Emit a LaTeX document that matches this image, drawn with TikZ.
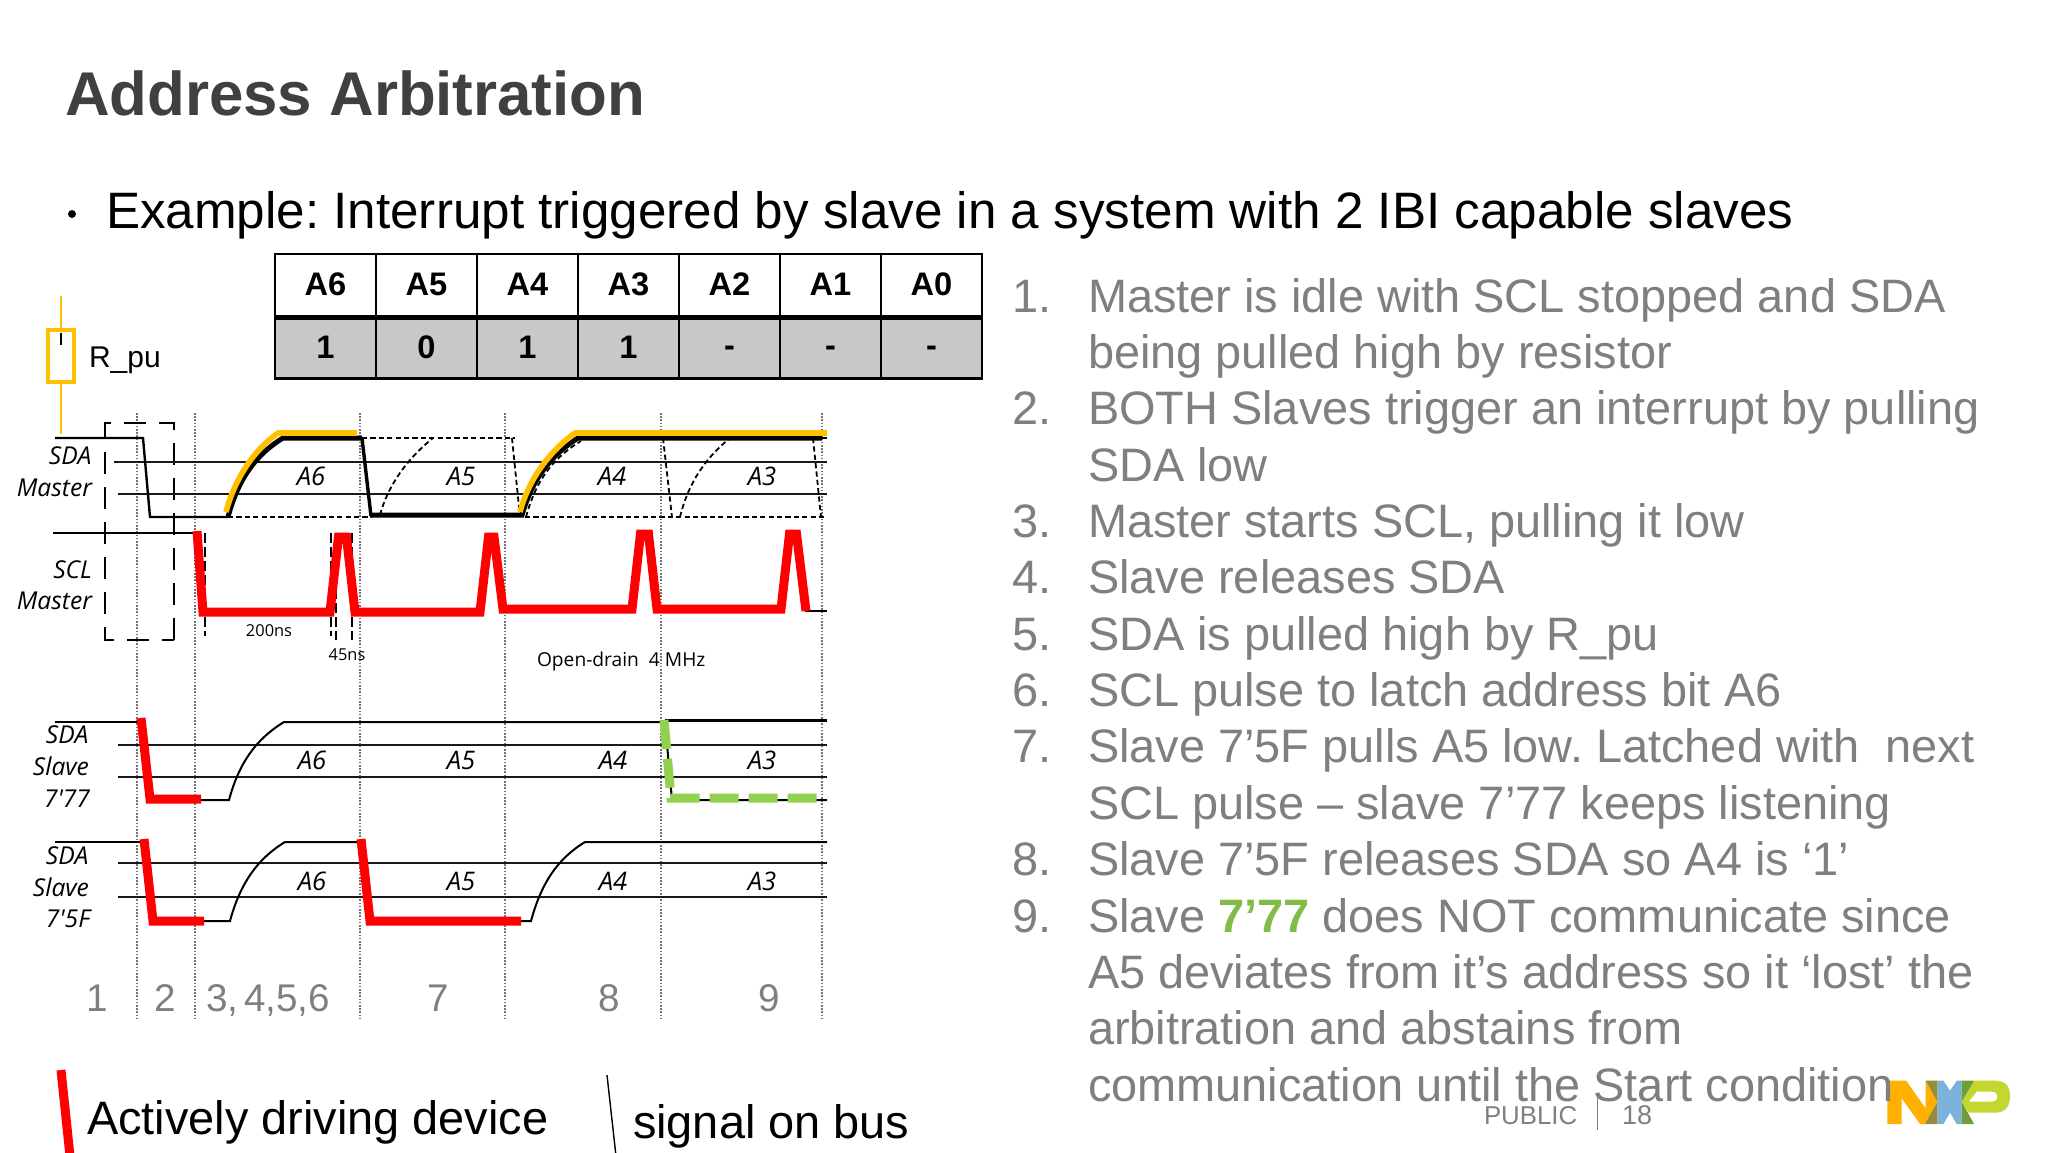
\documentclass[tikz,border=0pt]{standalone}
\usepackage{fontspec}
\setmainfont{Liberation Sans}
\newfontfamily\osans{Open Sans}
\newcommand{\fsz}[1]{\fontsize{#1pt}{#1pt}\selectfont}
\definecolor{listgray}{HTML}{7F7F7F}
\definecolor{titlegray}{HTML}{404040}
\definecolor{amber}{HTML}{FFC000}
\definecolor{drive}{HTML}{FF0000}
\definecolor{lostgreen}{HTML}{92D050}
\definecolor{cellgray}{HTML}{C8C8C8}
\definecolor{nxporange}{RGB}{255,176,0}
\definecolor{nxpblue}{RGB}{123,177,219}
\definecolor{nxpgreen}{RGB}{196,214,47}
\definecolor{nxpolive}{RGB}{149,139,61}
\definecolor{nxpdark}{RGB}{111,159,60}
\tikzset{
  txtw/.style={inner sep=0pt,outer sep=0pt,anchor=base west},
  txte/.style={inner sep=0pt,outer sep=0pt,anchor=base east},
  txtc/.style={inner sep=0pt,outer sep=0pt,anchor=base},
  listtxt/.style={txtw,text=listgray,font=\fsz{23.45}},
  sig/.style={txte,font=\osans\itshape\fsz{12.3}},
  bitlab/.style={inner sep=0pt,outer sep=0pt,anchor=center,font=\osans\itshape\fsz{12.8}},
  stepnum/.style={txtc,text=listgray,font=\fsz{19.3}},
  stepnumw/.style={txtw,text=listgray,font=\fsz{19.3}},
  busline/.style={black,line width=1pt},
  refline/.style={black!90,line width=.8pt},
  heavy/.style={black,line width=2.5pt,line join=miter},
  redrive/.style={drive,line width=4.5pt,line join=miter},
  pullup/.style={amber,line width=2.8pt},
  shortdash/.style={black,line width=.9pt,dash pattern=on 2.6pt off 1.6pt},
  phase/.style={black!55,line width=.6pt,dash pattern=on .8pt off .8pt},
  dimmark/.style={black,line width=.7pt,dash pattern=on 5pt off 2pt},
  headcell/.style={draw=black,line width=1.2pt,minimum width=101.1*.5pt,minimum height=63*.5pt,inner sep=0pt},
  valcell/.style={headcell,fill=cellgray,minimum height=61*.5pt},
  celltxt/.style={inner sep=0pt,outer sep=0pt,anchor=center,font=\bfseries\fsz{16.3}},
}
\begin{document}
\frenchspacing
\begin{tikzpicture}[x=.5pt,y=-.5pt]
\fill[white,use as bounding box] (0,0) rectangle (2048,1152);

% ---- NXP logo (under the text that overlaps it)
\begin{scope}[shift={(1780,1060)},x=.1667pt,y=-.1667pt]
  \fill[nxporange] (322,192)--(322,62)--(378,62)--(437,145)--(437,62)--(472,125)--(435,192)--(420,192)--(365,115)--(365,192)--cycle;
  \fill[nxpblue] (472,62)--(490,62)--(510,92)--(530,62)--(545,62)--(545,192)--(530,192)--(510,158)--(490,192)--(472,192)--cycle;
  \fill[nxpgreen,even odd rule] (582,62)--(648,62) .. controls (675,62) and (690,78) .. (690,108) .. controls (690,140) and (675,158) .. (645,158) -- (566,158) -- (545,125) -- cycle (590,95)--(635,95) .. controls (648,95) and (652,102) .. (652,110) .. controls (652,120) and (645,125) .. (633,125) -- (566,125) -- cycle;
  \fill[nxpolive] (437,62)--(472,62)--(472,125)--cycle;
  \fill[nxpolive] (435,192)--(472,125)--(472,192)--cycle;
  \fill[nxpdark] (545,62)--(582,62)--(545,125)--cycle;
  \fill[nxpdark] (545,125)--(582,192)--(545,192)--cycle;
\end{scope}

% ---- title
\node[txtw,text=titlegray,font=\bfseries\fsz{30.9}] (title) at (65,115) {Address Arbitration};
\node[inner sep=0pt,circle,fill=black,minimum size=8*.5pt] (bullet) at (72,214) {};
\node[txtw,font=\fsz{25.6}] (subtitle) at (106,228.5) {Example: Interrupt triggered by slave in a system with 2 IBI capable slaves};

% ---- table
\foreach \lab [count=\i from 0] in {A6,A5,A4,A3,A2,A1,A0}{
  \node[headcell] (h\i) at ({275+50.5+\i*101},285.5) {};
  \node[celltxt] (ht\i) at ({275+50.5+\i*101},284.5) {\lab};
}
\foreach \lab [count=\i from 0] in {1,0,1,1}{
  \node[valcell] (v\i) at ({275+50.5+\i*101},348) {};
  \node[celltxt] (vt\i) at ({275+50.5+\i*101},347) {\lab};
}
\foreach \i in {4,5,6}{
  \node[valcell] (v\i) at ({275+50.5+\i*101},348) {};
  \node[celltxt] (vt\i) at ({275+50.5+\i*101},351) {-};
}
\draw[black,line width=2.4pt] (h0.south west |- 0,317.5) -- (h6.south east |- 0,317.5);

% ---- phase markers
\foreach \x/\nm in {137/a,195/b,360/c,505/d,661/e,822/f}{
  \coordinate (pt\nm) at (\x,413);
  \coordinate (pb\nm) at (\x,1020);
  \draw[phase] (pt\nm) -- (pb\nm);
}

% ---- pull-up resistor
\coordinate (rtop) at (61,296);
\coordinate (rbot) at (61,434);
\draw[amber,line width=.9pt] (rtop) -- (rbot);
\node[draw=amber,fill=white,line width=1.9pt,minimum width=26*.5pt,minimum height=52*.5pt,inner sep=0pt] (rpu) at (61,356) {};
\draw[black,line width=.7pt] (61,333) -- (61,345);
\node[txtw,font=\fsz{15}] (rlab) at (89,367) {R\_pu};

% ---- dashed box
\draw[black,line width=1.2pt,dash pattern=on 11pt off 6.5pt] (174,640) -- (174,423) -- (105,423) -- (105,640) -- cycle;

% ---- reference lines
\draw[refline] (114,462) -- (827,462);
\draw[refline] (118,494) -- (827,494);
\draw[refline] (118,745) -- (827,745);
\draw[refline] (118,777) -- (827,777);
\draw[refline] (118,863) -- (827,863);
\draw[refline] (118,897) -- (827,897);

% ---- SDA master dashed alternatives
\draw[shortdash] (362,438) -- (515,438);
\draw[shortdash] (228,517) -- (371,517);
\draw[shortdash] (525,517) -- (827,517);
\draw[shortdash] (822,438) -- (827,438);
\draw[shortdash] (380,515) .. controls +(8,-30) and +(-25,20) .. (433,438);
\draw[shortdash] (512,438) -- (520,517);
\draw[shortdash] (663,438) -- (672,517);
\draw[shortdash] (680,517) .. controls +(9,-37) and +(-22,18) .. (730,438);
\draw[shortdash] (813,438) -- (821,517);
\draw[shortdash] (526,517) .. controls +(10,-37) and +(-28,17) .. (581,441);

% ---- SDA master
\draw[busline,line width=1.2pt] (55,438) -- (143,438) -- (150,517) -- (228,517);
\draw[heavy] (228,517) .. controls +(10,-37) and +(-28,17) .. (283,438) -- (362,438);
\draw[black,line width=1.7pt] (362,438) -- (371,516);
\draw[heavy] (370,515) -- (522,515) .. controls +(10,-35) and +(-28,18) .. (578,438) -- (822,438);
\draw[pullup] (226,512) .. controls +(9,-34) and +(-24,17) .. (278,433) -- (357,433);
\draw[pullup] (520,512) .. controls +(9,-34) and +(-24,17) .. (575,433) -- (827,433);
\node[bitlab] (ma6) at (311,476) {A6};
\node[bitlab] (ma5) at (461,476) {A5};
\node[bitlab] (ma4) at (612,476) {A4};
\node[bitlab] (ma3) at (762,476) {A3};
\node[sig] (m1) at (91.5,464) {SDA};
\node[sig] (m2) at (92,496) {Master};

% ---- SCL master
\draw[dimmark] (205,533) -- (205,636);
\draw[dimmark] (331,533) -- (331,636);
\draw[dimmark] (336,533) -- (336,640);
\draw[dimmark] (352,533) -- (352,640);
\draw[busline,line width=1.2pt] (53,533) -- (197,533);
\draw[busline,line width=1.2pt] (805,611) -- (827,611);
\draw[redrive] (197,531) -- (203,612) -- (330,612) -- (338.5,537) -- (346.5,537) -- (355,612) -- (480,612) -- (488.5,537) -- (494,537) -- (503,609) -- (632,609) -- (640.5,534) -- (648.5,534) -- (657,609) -- (781,609) -- (789.5,534) -- (796.5,534) -- (806,611);
\node[sig] (s1) at (92,578) {SCL};
\node[sig] (s2) at (92,609) {Master};
\node[txtc,font=\osans\fsz{8.2}] (d200) at (269,636) {200ns};
\node[txtc,font=\osans\fsz{8.2}] (d45) at (347,660) {45ns};
\node[txtw,font=\osans\fsz{9.6}] (od) at (537,666) {Open-drain\ \ 4 MHz};

% ---- SDA slave 7'77
\draw[busline] (55,722) -- (139,722);
\draw[busline] (201,800) -- (229,800) .. controls +(10,-37) and +(-28,17) .. (284,722) -- (665,722) -- (672,800) -- (827,800);
\draw[black,line width=1.5pt] (665,720) -- (827,720);
\draw[redrive] (141,718) -- (150,799) -- (201,799);
\draw[lostgreen,line width=4.5pt,dash pattern=on 14.5pt off 5pt,line join=miter] (664,720) -- (671,798) -- (818,798);
\node[bitlab] (a6a) at (312,760) {A6};
\node[bitlab] (a5a) at (461,760) {A5};
\node[bitlab] (a4a) at (613,760) {A4};
\node[bitlab] (a3a) at (762,760) {A3};
\node[sig] (sa1) at (88.5,743) {SDA};
\node[sig] (sa2) at (89,775) {Slave};
\node[sig] (sa3) at (90,807) {7'77};

% ---- SDA slave 7'5F
\draw[busline] (55,842) -- (142,842);
\draw[busline] (204,921) -- (230,921) .. controls +(10,-37) and +(-28,17) .. (285,842) -- (358,842);
\draw[busline] (521,921) -- (531,921) .. controls +(10,-37) and +(-28,17) .. (585,842) -- (827,842);
\draw[redrive] (144,839) -- (153,921) -- (204,921);
\draw[redrive] (361,839) -- (370,921) -- (521,921);
\node[bitlab] (a6b) at (312,881) {A6};
\node[bitlab] (a5b) at (461,881) {A5};
\node[bitlab] (a4b) at (613,881) {A4};
\node[bitlab] (a3b) at (762,881) {A3};
\node[sig] (sb1) at (88.5,864) {SDA};
\node[sig] (sb2) at (89,896) {Slave};
\node[sig] (sb3) at (90,927) {7'5F};

% ---- step numbers
\node[stepnum] (st1) at (97,1011) {1};
\node[stepnum] (st2) at (165,1011) {2};
\node[stepnumw] (st3) at (206,1011) {3,};
\node[stepnumw] (st4) at (244,1011) {4,5,6};
\node[stepnum] (st7) at (438,1011) {7};
\node[stepnum] (st8) at (609,1011) {8};
\node[stepnum] (st9) at (769,1011) {9};

% ---- legend
\coordinate (lr1) at (61,1070);
\coordinate (lr2) at (70,1156);
\draw[drive,line width=4.5pt] (lr1) -- (lr2);
\node[txtw,font=\fsz{23.45}] (leg1) at (87,1134) {Actively driving device};
\coordinate (lb1) at (607,1075);
\coordinate (lb2) at (616,1156);
\draw[black,line width=.7pt] (lb1) -- (lb2);
\node[txtw,font=\fsz{23.45}] (leg2) at (633,1138) {signal on bus};

% ---- numbered list
\foreach \n/\y in {1/312,2/424.7,3/537.4,4/593.8,5/650.2,6/706.5,7/762.9,8/875.6,9/932}{
  \node[listtxt] (num\n) at (1012,\y) {\n.};
}
\node[listtxt] (l1) at (1088,312) {Master is idle with SCL stopped and SDA};
\node[listtxt] (l2) at (1088,368.4) {being pulled high by resistor};
\node[listtxt] (l3) at (1088,424.7) {BOTH Slaves trigger an interrupt by pulling};
\node[listtxt] (l4) at (1088,481) {SDA low};
\node[listtxt] (l5) at (1088,537.4) {Master starts SCL, pulling it low};
\node[listtxt] (l6) at (1088,593.8) {Slave releases SDA};
\node[listtxt] (l7) at (1088,650.2) {SDA is pulled high by R\_pu};
\node[listtxt] (l8) at (1088,706.5) {SCL pulse to latch address bit A6};
\node[listtxt] (l9) at (1088,762.9) {Slave 7’5F pulls A5 low. Latched with\ \ next};
\node[listtxt] (l10) at (1088,819.2) {SCL pulse – slave 7’77 keeps listening};
\node[listtxt] (l11) at (1088,875.6) {Slave 7’5F releases SDA so A4 is ‘1’};
\node[listtxt] (l12) at (1088,932) {Slave {\bfseries\color{lostgreen!90!black}7’77} does NOT communicate since};
\node[listtxt] (l13) at (1088,988.3) {A5 deviates from it’s address so it ‘lost’ the};
\node[listtxt] (l14) at (1088,1044.7) {arbitration and abstains from};
\node[listtxt] (l15) at (1088,1101) {communication until the Start condition};

% ---- footer
\node[txtw,text=listgray,font=\fsz{12.9}] (pub) at (1484,1124) {PUBLIC};
\coordinate (sep1) at (1597,1097);
\coordinate (sep2) at (1597,1130);
\draw[listgray,line width=.5pt] (sep1) -- (sep2);
\node[txtw,text=listgray,font=\fsz{13.5}] (pg) at (1622,1124) {18};
\end{tikzpicture}
\end{document}
